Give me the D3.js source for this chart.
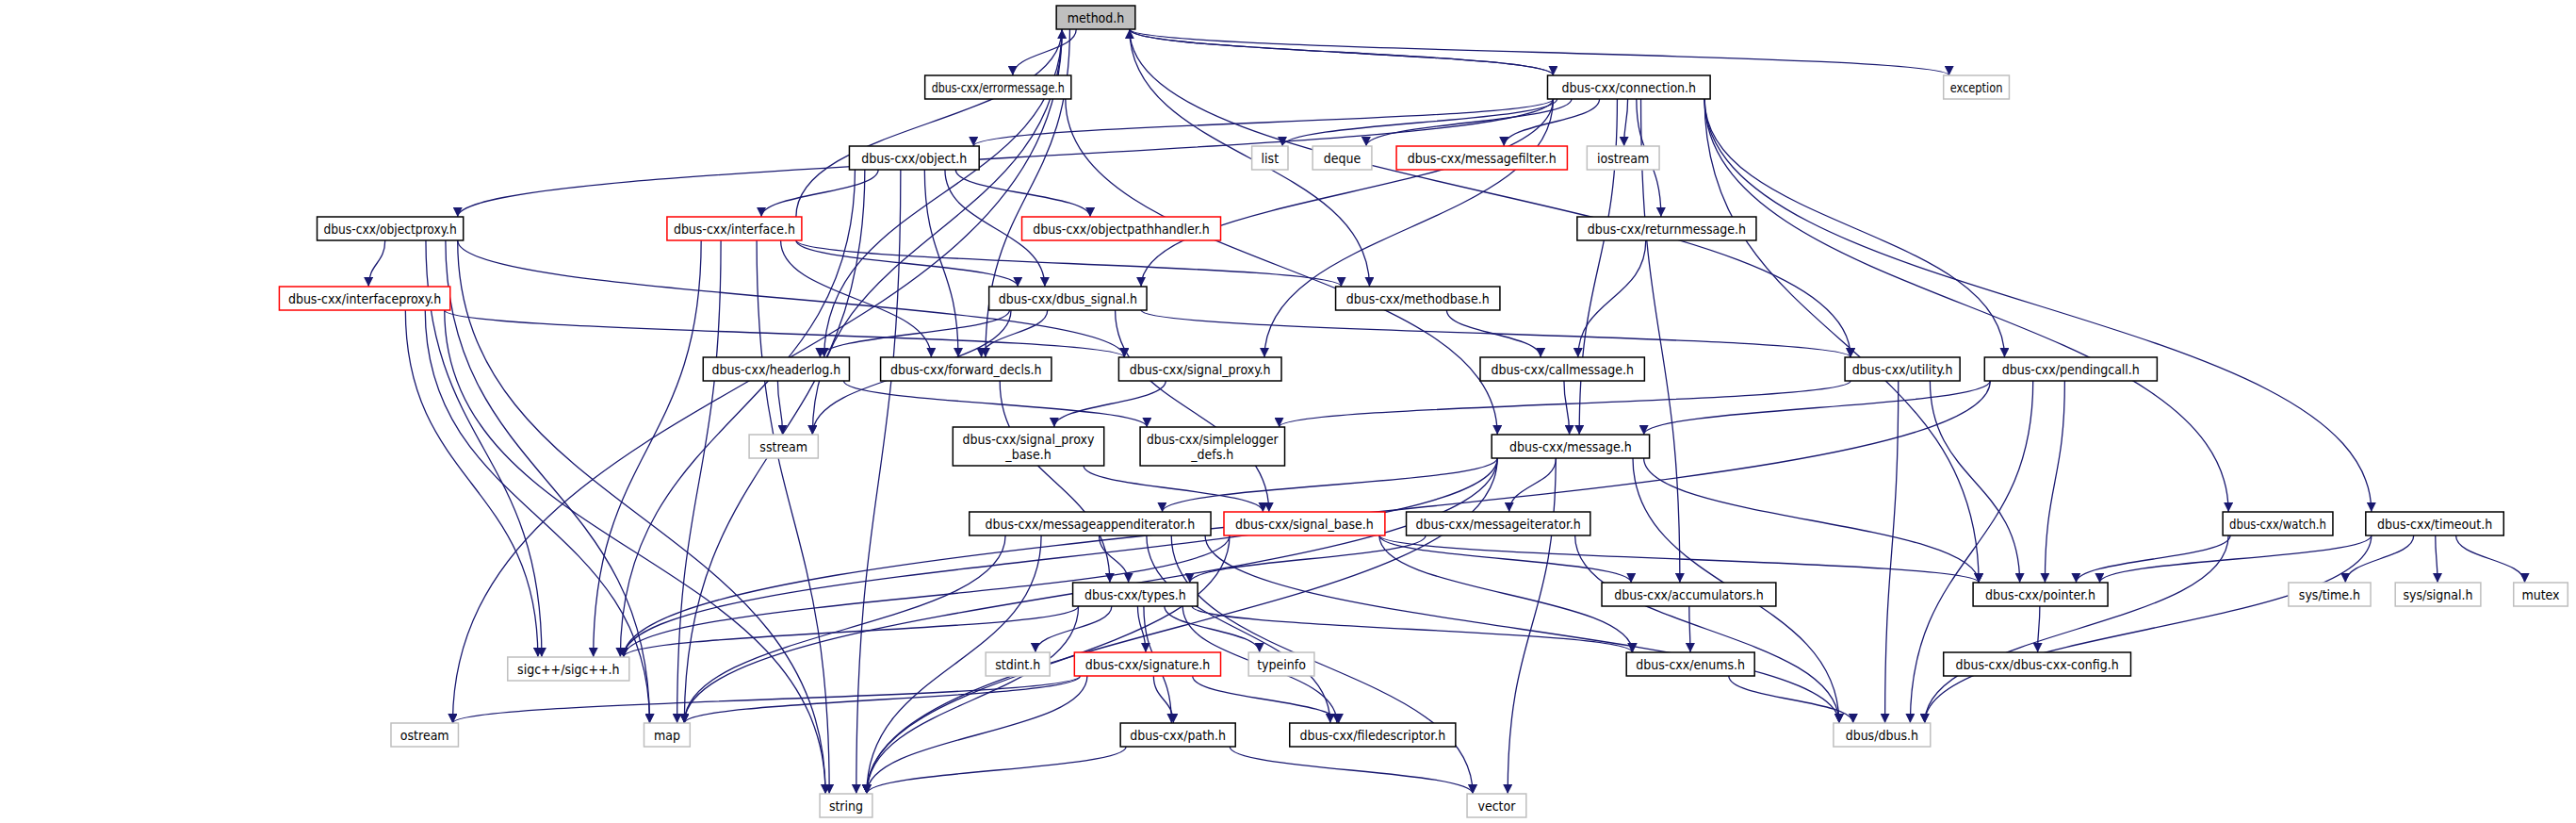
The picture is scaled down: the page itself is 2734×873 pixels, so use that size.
<!DOCTYPE html>
<html>
<head>
<meta charset="utf-8">
<script src="https://cdn.jsdelivr.net/npm/d3@7"></script>
<style>
  body { margin: 0; background: #fff; }
  text { font-family: "DejaVu Sans Condensed", "DejaVu Sans", sans-serif; font-size: 14px; }
</style>
</head>
<body>
<svg id="chart" width="2734" height="873"></svg>
<script>
// node names and kind: 0 = documented (black), 1 = system header (grey), 2 = red (truncated), 3 = root
const nodeNames = ["method.h","dbus-cxx/errormessage.h","dbus-cxx/connection.h","exception",
  "dbus-cxx/object.h","list","deque","dbus-cxx/messagefilter.h","iostream",
  "dbus-cxx/objectproxy.h","dbus-cxx/interface.h","dbus-cxx/objectpathhandler.h","dbus-cxx/returnmessage.h",
  "dbus-cxx/interfaceproxy.h","dbus-cxx/dbus_signal.h","dbus-cxx/methodbase.h",
  "dbus-cxx/headerlog.h","dbus-cxx/forward_decls.h","dbus-cxx/signal_proxy.h","dbus-cxx/callmessage.h",
  "dbus-cxx/utility.h","dbus-cxx/pendingcall.h","sstream","dbus-cxx/signal_proxy_base.h",
  "dbus-cxx/simplelogger_defs.h","dbus-cxx/message.h","dbus-cxx/messageappenditerator.h",
  "dbus-cxx/signal_base.h","dbus-cxx/messageiterator.h","dbus-cxx/watch.h","dbus-cxx/timeout.h",
  "sigc++/sigc++.h","dbus-cxx/types.h","dbus-cxx/accumulators.h","dbus-cxx/pointer.h",
  "sys/time.h","sys/signal.h","mutex","stdint.h","dbus-cxx/signature.h","typeinfo",
  "dbus-cxx/enums.h","dbus-cxx/dbus-cxx-config.h","ostream","map","dbus-cxx/path.h",
  "dbus-cxx/filedescriptor.h","dbus/dbus.h","string","vector"];
const nodeKinds = [3,0,0,1, 0,1,1,2,1, 0,2,2,0, 2,0,0, 0,0,0,0, 0,0,1,0, 0,0,0, 2,0,0,0,
  1,0,0,0, 1,1,1,1,2,1, 0,0,1,1,0, 0,1,1,1];
const nodeLabels = {
  "dbus-cxx/signal_proxy_base.h": ["dbus-cxx/signal_proxy", "_base.h"],
  "dbus-cxx/simplelogger_defs.h": ["dbus-cxx/simplelogger", "_defs.h"]
};

const edges = [
  ["method.h","dbus-cxx/errormessage.h"],["method.h","dbus-cxx/connection.h"],["method.h","exception"],
  ["method.h","ostream"],["method.h","sstream"],["method.h","dbus-cxx/headerlog.h"],
  ["method.h","dbus-cxx/forward_decls.h"],["method.h","dbus-cxx/methodbase.h"],["method.h","dbus-cxx/utility.h"],
  ["dbus-cxx/errormessage.h","dbus-cxx/message.h"],
  ["dbus-cxx/connection.h","method.h"],["dbus-cxx/connection.h","dbus-cxx/object.h"],
  ["dbus-cxx/connection.h","dbus-cxx/objectproxy.h"],["dbus-cxx/connection.h","list"],
  ["dbus-cxx/connection.h","deque"],["dbus-cxx/connection.h","dbus-cxx/messagefilter.h"],
  ["dbus-cxx/connection.h","iostream"],["dbus-cxx/connection.h","dbus-cxx/dbus_signal.h"],
  ["dbus-cxx/connection.h","dbus-cxx/signal_proxy.h"],["dbus-cxx/connection.h","dbus-cxx/returnmessage.h"],
  ["dbus-cxx/connection.h","dbus-cxx/message.h"],["dbus-cxx/connection.h","dbus-cxx/accumulators.h"],
  ["dbus-cxx/connection.h","dbus-cxx/pointer.h"],["dbus-cxx/connection.h","dbus-cxx/pendingcall.h"],
  ["dbus-cxx/connection.h","dbus-cxx/watch.h"],["dbus-cxx/connection.h","dbus-cxx/timeout.h"],
  ["dbus-cxx/object.h","string"],["dbus-cxx/object.h","dbus-cxx/interface.h"],
  ["dbus-cxx/object.h","dbus-cxx/objectpathhandler.h"],["dbus-cxx/object.h","dbus-cxx/dbus_signal.h"],
  ["dbus-cxx/object.h","dbus-cxx/forward_decls.h"],["dbus-cxx/object.h","sigc++/sigc++.h"],
  ["dbus-cxx/object.h","map"],
  ["dbus-cxx/interface.h","method.h"],["dbus-cxx/interface.h","dbus-cxx/methodbase.h"],
  ["dbus-cxx/interface.h","dbus-cxx/dbus_signal.h"],["dbus-cxx/interface.h","dbus-cxx/forward_decls.h"],
  ["dbus-cxx/interface.h","sigc++/sigc++.h"],["dbus-cxx/interface.h","map"],["dbus-cxx/interface.h","string"],
  ["dbus-cxx/objectproxy.h","dbus-cxx/interfaceproxy.h"],["dbus-cxx/objectproxy.h","string"],
  ["dbus-cxx/objectproxy.h","map"],["dbus-cxx/objectproxy.h","sigc++/sigc++.h"],
  ["dbus-cxx/objectproxy.h","dbus-cxx/signal_proxy.h"],
  ["dbus-cxx/interfaceproxy.h","string"],["dbus-cxx/interfaceproxy.h","map"],
  ["dbus-cxx/interfaceproxy.h","sigc++/sigc++.h"],["dbus-cxx/interfaceproxy.h","dbus-cxx/signal_proxy.h"],
  ["dbus-cxx/dbus_signal.h","dbus-cxx/headerlog.h"],["dbus-cxx/dbus_signal.h","dbus-cxx/forward_decls.h"],
  ["dbus-cxx/dbus_signal.h","dbus-cxx/signal_base.h"],["dbus-cxx/dbus_signal.h","sstream"],
  ["dbus-cxx/dbus_signal.h","dbus-cxx/utility.h"],
  ["dbus-cxx/headerlog.h","sstream"],["dbus-cxx/headerlog.h","dbus-cxx/simplelogger_defs.h"],
  ["dbus-cxx/forward_decls.h","dbus-cxx/types.h"],
  ["dbus-cxx/signal_proxy.h","dbus-cxx/signal_proxy_base.h"],
  ["dbus-cxx/signal_proxy_base.h","dbus-cxx/signal_base.h"],
  ["dbus-cxx/methodbase.h","dbus-cxx/callmessage.h"],["dbus-cxx/returnmessage.h","dbus-cxx/callmessage.h"],
  ["dbus-cxx/callmessage.h","dbus-cxx/message.h"],
  ["dbus-cxx/utility.h","dbus-cxx/simplelogger_defs.h"],["dbus-cxx/utility.h","dbus/dbus.h"],
  ["dbus-cxx/utility.h","dbus-cxx/pointer.h"],
  ["dbus-cxx/pendingcall.h","dbus-cxx/message.h"],["dbus-cxx/pendingcall.h","dbus-cxx/pointer.h"],
  ["dbus-cxx/pendingcall.h","dbus/dbus.h"],["dbus-cxx/pendingcall.h","sigc++/sigc++.h"],
  ["dbus-cxx/message.h","dbus-cxx/messageappenditerator.h"],["dbus-cxx/message.h","dbus-cxx/messageiterator.h"],
  ["dbus-cxx/message.h","sigc++/sigc++.h"],["dbus-cxx/message.h","map"],["dbus-cxx/message.h","string"],
  ["dbus-cxx/message.h","vector"],["dbus-cxx/message.h","dbus/dbus.h"],["dbus-cxx/message.h","dbus-cxx/pointer.h"],
  ["dbus-cxx/messageappenditerator.h","dbus-cxx/types.h"],["dbus-cxx/messageappenditerator.h","string"],
  ["dbus-cxx/messageappenditerator.h","map"],["dbus-cxx/messageappenditerator.h","dbus-cxx/filedescriptor.h"],
  ["dbus-cxx/messageappenditerator.h","vector"],["dbus-cxx/messageappenditerator.h","dbus/dbus.h"],
  ["dbus-cxx/signal_base.h","string"],["dbus-cxx/signal_base.h","sigc++/sigc++.h"],
  ["dbus-cxx/signal_base.h","dbus-cxx/accumulators.h"],["dbus-cxx/signal_base.h","dbus-cxx/enums.h"],
  ["dbus-cxx/signal_base.h","dbus-cxx/pointer.h"],
  ["dbus-cxx/messageiterator.h","dbus-cxx/types.h"],["dbus-cxx/messageiterator.h","dbus/dbus.h"],
  ["dbus-cxx/types.h","sigc++/sigc++.h"],["dbus-cxx/types.h","stdint.h"],["dbus-cxx/types.h","dbus-cxx/signature.h"],
  ["dbus-cxx/types.h","typeinfo"],["dbus-cxx/types.h","string"],["dbus-cxx/types.h","dbus-cxx/path.h"],
  ["dbus-cxx/types.h","dbus-cxx/filedescriptor.h"],["dbus-cxx/types.h","dbus-cxx/enums.h"],
  ["dbus-cxx/signature.h","ostream"],["dbus-cxx/signature.h","map"],["dbus-cxx/signature.h","string"],
  ["dbus-cxx/signature.h","dbus-cxx/path.h"],["dbus-cxx/signature.h","dbus-cxx/filedescriptor.h"],
  ["dbus-cxx/path.h","string"],["dbus-cxx/path.h","vector"],
  ["dbus-cxx/accumulators.h","dbus-cxx/enums.h"],["dbus-cxx/enums.h","dbus/dbus.h"],
  ["dbus-cxx/pointer.h","dbus-cxx/dbus-cxx-config.h"],
  ["dbus-cxx/watch.h","dbus-cxx/pointer.h"],["dbus-cxx/watch.h","dbus/dbus.h"],
  ["dbus-cxx/timeout.h","dbus-cxx/pointer.h"],["dbus-cxx/timeout.h","dbus/dbus.h"],
  ["dbus-cxx/timeout.h","sys/time.h"],["dbus-cxx/timeout.h","sys/signal.h"],["dbus-cxx/timeout.h","mutex"]
];

// layout: left, right (thumbnail units, 1568 wide), top (page px)
const layout = {
  "method.h":[643,691,6], "dbus-cxx/errormessage.h":[563,652,80], "dbus-cxx/connection.h":[942,1041,80],
  "exception":[1183,1223,80], "dbus-cxx/object.h":[517,596,155], "list":[762,784,155], "deque":[799,835,155],
  "dbus-cxx/messagefilter.h":[850,954,155], "iostream":[966,1010,155],
  "dbus-cxx/objectproxy.h":[193,282,230], "dbus-cxx/interface.h":[406,488,230],
  "dbus-cxx/objectpathhandler.h":[622,743,230], "dbus-cxx/returnmessage.h":[960,1069,230],
  "dbus-cxx/interfaceproxy.h":[170,274,304], "dbus-cxx/dbus_signal.h":[602,698,304],
  "dbus-cxx/methodbase.h":[813,913,304],
  "dbus-cxx/headerlog.h":[428,517,379], "dbus-cxx/forward_decls.h":[536,640,379],
  "dbus-cxx/signal_proxy.h":[681,780,379], "dbus-cxx/callmessage.h":[901,1001,379],
  "dbus-cxx/utility.h":[1123,1193,379], "dbus-cxx/pendingcall.h":[1208,1313,379],
  "sstream":[456,498,461], "dbus-cxx/signal_proxy_base.h":[580,672,453],
  "dbus-cxx/simplelogger_defs.h":[694,782,453], "dbus-cxx/message.h":[908,1004,461],
  "dbus-cxx/messageappenditerator.h":[590,737,543], "dbus-cxx/signal_base.h":[745,843,543],
  "dbus-cxx/messageiterator.h":[856,968,543], "dbus-cxx/watch.h":[1353,1420,543],
  "dbus-cxx/timeout.h":[1440,1524,543],
  "sigc++/sigc++.h":[309,383,697], "dbus-cxx/types.h":[653,729,618], "dbus-cxx/accumulators.h":[975,1081,618],
  "dbus-cxx/pointer.h":[1201,1283,618], "sys/time.h":[1393,1443,618], "sys/signal.h":[1458,1510,618],
  "mutex":[1530,1563,618],
  "stdint.h":[600,639,692], "dbus-cxx/signature.h":[654,743,692], "typeinfo":[760,800,692],
  "dbus-cxx/enums.h":[990,1068,692], "dbus-cxx/dbus-cxx-config.h":[1183,1297,692],
  "ostream":[238,279,767], "map":[392,420,767], "dbus-cxx/path.h":[682,752,767],
  "dbus-cxx/filedescriptor.h":[785,886,767], "dbus/dbus.h":[1116,1175,767],
  "string":[499,531,842], "vector":[893,929,842]
};
const kx = 2734 / 1568;

const svg = d3.select('#chart');
const edgeColor = '#191970';

svg.append('defs').append('marker')
  .attr('id', 'arrow').attr('viewBox', '0 0 10 10').attr('refX', 10).attr('refY', 5)
  .attr('markerWidth', 14).attr('markerHeight', 10).attr('markerUnits', 'userSpaceOnUse')
  .attr('orient', 'auto')
  .append('path').attr('d', 'M0,0 L10,5 L0,10 z').attr('fill', edgeColor);

const nodes = nodeNames.map(function(n, i) {
  const l = layout[n];
  const h = nodeLabels[n] ? 41 : 25;
  const x0 = l[0] * kx, x1 = l[1] * kx;
  return { name: n, kind: nodeKinds[i], x0: x0, x1: x1, y0: l[2], y1: l[2] + h, cx: (x0 + x1) / 2 };
});
const byName = {};
nodes.forEach(function(d){ byName[d.name] = d; });

function clamp(v, lo, hi) { return Math.max(lo, Math.min(hi, v)); }

function edgePath(e) {
  const s = byName[e[0]], t = byName[e[1]];
  const sw = (s.x1 - s.x0) / 2 - 6, tw = (t.x1 - t.x0) / 2 - 6;
  let sx, sy, tx, ty;
  sx = s.cx + clamp((t.cx - s.cx) * 0.2, -sw, sw);
  tx = t.cx + clamp((s.cx - t.cx) * 0.15, -tw, tw);
  if (t.y0 >= s.y1 - 1) { sy = s.y1; ty = t.y0; }
  else { sy = s.y0; ty = t.y1; }   // edge pointing back up
  const dy = (ty - sy) * 0.5;
  const p = d3.path();
  p.moveTo(sx, sy);
  p.bezierCurveTo(sx, sy + dy, tx, ty - dy, tx, ty);
  return p.toString();
}

svg.append('g').selectAll('path')
  .data(edges)
  .enter()
  .append('path')
  .attr('d', edgePath)
  .attr('fill', 'none')
  .attr('stroke', edgeColor)
  .attr('stroke-width', 1.3)
  .attr('marker-end', 'url(#arrow)');

const g = svg.append('g').selectAll('g').data(nodes).enter().append('g');

g.append('rect')
  .attr('x', function(d){ return d.x0; })
  .attr('y', function(d){ return d.y0; })
  .attr('width', function(d){ return d.x1 - d.x0; })
  .attr('height', function(d){ return d.y1 - d.y0; })
  .attr('fill', function(d){ return d.kind == 3 ? '#bfbfbf' : '#fff'; })
  .attr('stroke', function(d){
    if (d.kind == 1) return '#bfbfbf';
    if (d.kind == 2) return '#ff0000';
    return '#000';
  })
  .attr('stroke-width', 1.5);

g.each(function(d){
  const lines = nodeLabels[d.name] || [d.name];
  const sel = d3.select(this);
  const maxW = d.x1 - d.x0 - 14;
  lines.forEach(function(line, i){
    const t = sel.append('text')
      .attr('x', d.cx)
      .attr('y', d.y0 + 17.5 + i * 16)
      .attr('text-anchor', 'middle')
      .attr('fill', '#000')
      .text(line);
    if (t.node().getComputedTextLength() > maxW) {
      t.attr('textLength', maxW).attr('lengthAdjust', 'spacingAndGlyphs');
    }
  });
});
</script>
</body>
</html>
